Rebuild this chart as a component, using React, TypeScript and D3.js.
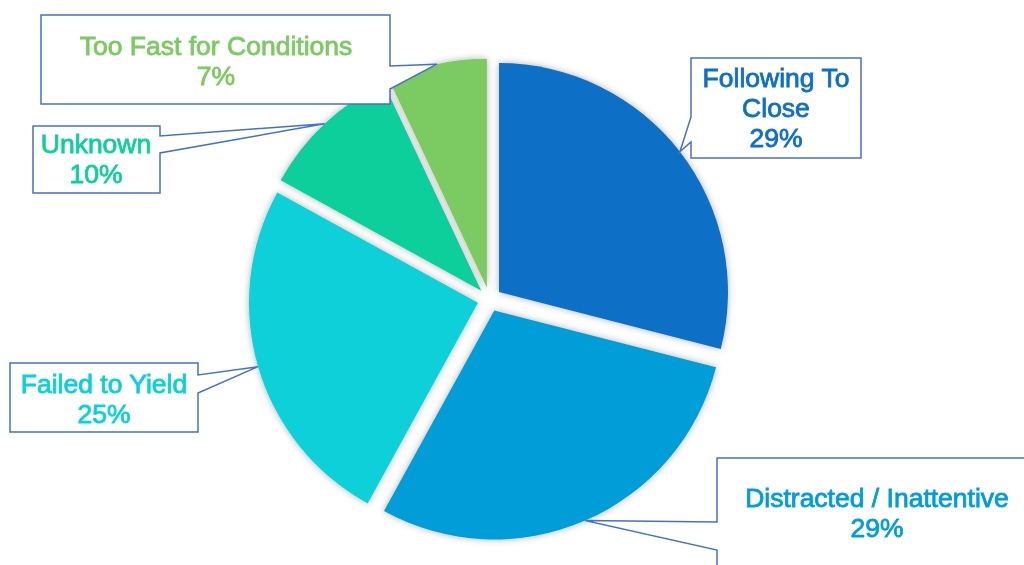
import React from "react";
import * as d3 from "d3";

const categories = ["Following To Close", "Distracted / Inattentive", "Failed to Yield", "Unknown", "Too Fast for Conditions"];
const values = [29, 29, 25, 10, 7];
const colors = ["#0F6FC6", "#009DD9", "#0BD0D9", "#10CF9B", "#7CCA62"];
const labelLines = [["Following To", "Close"], ["Distracted / Inattentive"], ["Failed to Yield"], ["Unknown"], ["Too Fast for Conditions"]];

// callout layout: box x,y,w,h, side of pointer, attach positions, text center x, first baseline
const callouts = [
  { x: 691, y: 58, w: 170, h: 100, side: "left", a1: 117, a2: 142, tx: 776, ty: 87 },
  { x: 717, y: 458, w: 320, h: 130, side: "left", a1: 522, a2: 550, tx: 877, ty: 507 },
  { x: 10, y: 363, w: 188, h: 69, side: "right", a1: 375, a2: 393, tx: 104, ty: 393 },
  { x: 33, y: 126, w: 127, h: 67, side: "right", a1: 136, a2: 153, tx: 96, ty: 153 },
  { x: 41, y: 15, w: 349, h: 89, side: "right", a1: 66, a2: 89, tx: 216, ty: 55 },
];

const W = 1024, H = 565;
const cx = 489.5, cy = 299.4, R = 229, explode = 12;

export default function App() {
  const pie = d3.pie<number>().sort(null).value((d) => d)(values);
  const arc = d3.arc<d3.PieArcDatum<number>>().innerRadius(0).outerRadius(R);
  const lineH = 30;
  return (
    <svg width={W} height={H} style={{ position: "absolute", left: 0, top: 0, background: "#fff" }}
      fontFamily="'Liberation Sans', Arial, sans-serif">
      <defs>
        <filter id="sh" x="-20%" y="-20%" width="140%" height="140%">
          <feDropShadow dx="0" dy="0" stdDeviation="3.5" floodColor="#000" floodOpacity="0.3" />
        </filter>
      </defs>
      <g filter="url(#sh)">
        {pie.map((p, i) => {
          const mid = (p.startAngle + p.endAngle) / 2;
          const ox = cx + explode * Math.sin(mid);
          const oy = cy - explode * Math.cos(mid);
          return <path key={i} d={arc(p) || ""} transform={`translate(${ox},${oy})`} fill={colors[i]} />;
        })}
      </g>
      {pie.map((p, i) => {
        const mid = (p.startAngle + p.endAngle) / 2;
        const tipX = cx + (explode + R) * Math.sin(mid);
        const tipY = cy - (explode + R) * Math.cos(mid);
        const c = callouts[i];
        let d: string;
        if (c.side === "right") {
          d = `M${c.x},${c.y}H${c.x + c.w}V${c.a1}L${tipX},${tipY}L${c.x + c.w},${c.a2}V${c.y + c.h}H${c.x}Z`;
        } else {
          d = `M${c.x},${c.y}H${c.x + c.w}V${c.y + c.h}H${c.x}V${c.a2}L${tipX},${tipY}L${c.x},${c.a1}Z`;
        }
        const lines = [...labelLines[i], `${values[i]}%`];
        return (
          <g key={"c" + i}>
            <path d={d} fill="#fff" stroke="#4472C4" strokeWidth={1.5} strokeLinejoin="miter" />
            {lines.map((t, j) => (
              <text key={j} x={c.tx} y={c.ty + j * lineH} textAnchor="middle" fontSize={26.5} fill={colors[i]}
                stroke={colors[i]} strokeWidth={0.8}>
                {t}
              </text>
            ))}
          </g>
        );
      })}
    </svg>
  );
}
